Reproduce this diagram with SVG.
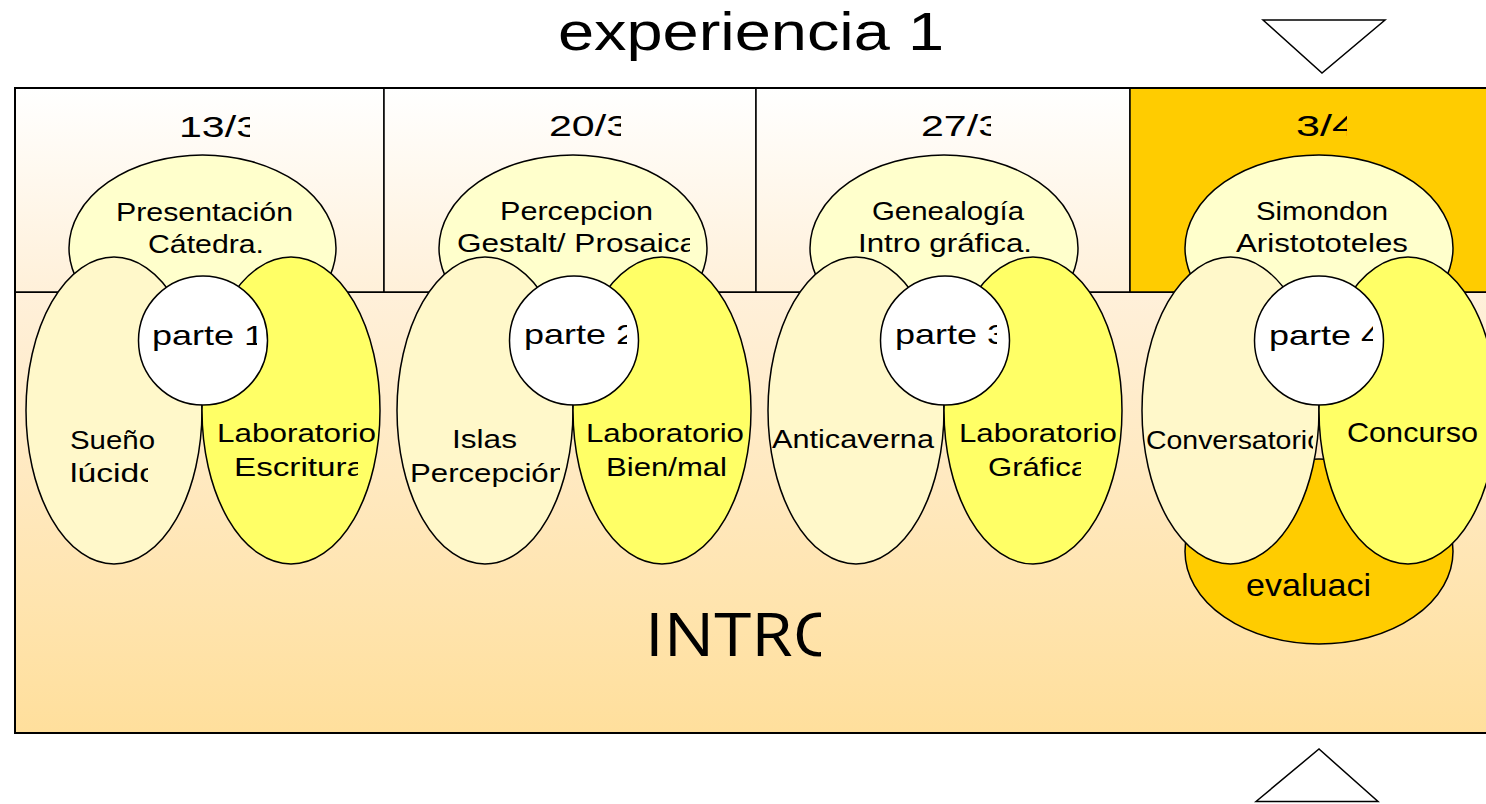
<svg xmlns="http://www.w3.org/2000/svg" width="1486" height="804" viewBox="0 0 1486 804">
<style>
  .sh { stroke: #000; stroke-width: 1.5; }
  .top { fill: #FFFFCC; }
  .left { fill: #FFF8CA; }
  .right { fill: #FFFF66; }
  .gold { fill: #FFCC00; }
  .circ { fill: #FFFFFF; }
  .t { font-family: "Liberation Sans", Arial, sans-serif; font-size: 26px; fill: #000; }
  .date { font-size: 29px; }
  .part { font-size: 28px; }
  .title { font-family: "Liberation Sans", Arial, sans-serif; font-size: 54px; fill: #000; }
  .big { font-family: "Open Sans", "Liberation Sans", sans-serif; font-size: 60px; fill: #000; }
</style>
<defs>
  <linearGradient id="gHead" x1="0" y1="0" x2="0" y2="1">
    <stop offset="0" stop-color="#FFFFFF"/>
    <stop offset="1" stop-color="#FFF0D9"/>
  </linearGradient>
  <linearGradient id="gBody" x1="0" y1="0" x2="0" y2="1">
    <stop offset="0" stop-color="#FFF0DA"/>
    <stop offset="1" stop-color="#FFDF9C"/>
  </linearGradient>
  <clipPath id="c13"><rect x="0" y="90" width="250" height="60"/></clipPath>
  <clipPath id="c20"><rect x="384" y="90" width="237" height="60"/></clipPath>
  <clipPath id="c27"><rect x="756" y="90" width="235" height="60"/></clipPath>
  <clipPath id="c34"><rect x="1130" y="90" width="217" height="60"/></clipPath>
  <clipPath id="cp1"><rect x="0" y="300" width="257" height="60"/></clipPath>
  <clipPath id="cp2"><rect x="384" y="300" width="243" height="60"/></clipPath>
  <clipPath id="cp3"><rect x="756" y="300" width="241" height="60"/></clipPath>
  <clipPath id="cp4"><rect x="1130" y="300" width="243" height="60"/></clipPath>
  <clipPath id="cLuc"><rect x="0" y="455" width="148" height="40"/></clipPath>
  <clipPath id="cEsc"><rect x="200" y="450" width="158" height="40"/></clipPath>
  <clipPath id="cGes"><rect x="440" y="225" width="250" height="40"/></clipPath>
  <clipPath id="cPer"><rect x="400" y="455" width="160" height="40"/></clipPath>
  <clipPath id="cGra"><rect x="950" y="450" width="131" height="40"/></clipPath>
  <clipPath id="cCon"><rect x="1140" y="420" width="173" height="40"/></clipPath>
  <clipPath id="cInt"><rect x="600" y="600" width="221" height="70"/></clipPath>
</defs>

<g id="title">
  <text class="title" x="558" y="50" textLength="386" lengthAdjust="spacingAndGlyphs">experiencia 1</text>
</g>

<g id="frame">
  <rect x="15" y="292" width="1490" height="441" fill="url(#gBody)" stroke="#000" stroke-width="2"/>
  <rect x="15" y="88" width="369" height="204" fill="url(#gHead)" stroke="#000" stroke-width="1.5"/>
  <rect x="384" y="88" width="372" height="204" fill="url(#gHead)" stroke="#000" stroke-width="1.5"/>
  <rect x="756" y="88" width="374" height="204" fill="url(#gHead)" stroke="#000" stroke-width="1.5"/>
  <rect x="1130" y="88" width="375" height="204" class="gold" stroke="#000" stroke-width="1.5"/>
  <rect x="15" y="88" width="1490" height="645" fill="none" stroke="#000" stroke-width="2"/>
</g>

<g id="markers">
  <polygon points="1263,20 1385,20 1322,73" fill="#FFFFFF" stroke="#000" stroke-width="1.5"/>
  <polygon points="1256,801.5 1319,749 1378,801.5" fill="#FFFFFF" stroke="#000" stroke-width="1.5"/>
</g>

<g id="intro">
  <text class="big" x="645" y="656" textLength="200" lengthAdjust="spacingAndGlyphs" clip-path="url(#cInt)">INTRO</text>
</g>

<g id="connectors"></g>

<g id="parte1">
  <text class="t date" x="179" y="137" textLength="80" lengthAdjust="spacingAndGlyphs" clip-path="url(#c13)">13/3</text>
  <ellipse class="sh top" cx="202.5" cy="248" rx="133.5" ry="93"/>
  <text class="t" x="116" y="221" textLength="177" lengthAdjust="spacingAndGlyphs">Presentación</text>
  <text class="t" x="148" y="253" textLength="116" lengthAdjust="spacingAndGlyphs">Cátedra.</text>
  <ellipse class="sh left" cx="114" cy="410.5" rx="88" ry="153.5"/>
  <ellipse class="sh right" cx="291" cy="410.5" rx="89" ry="153.5"/>
  <circle class="sh circ" cx="203" cy="340.5" r="64.5"/>
  <text class="t part" x="152" y="345" textLength="112" lengthAdjust="spacingAndGlyphs" clip-path="url(#cp1)">parte 1</text>
  <text class="t" x="70" y="449" textLength="85" lengthAdjust="spacingAndGlyphs">Sueño</text>
  <text class="t" x="70" y="482" textLength="88" lengthAdjust="spacingAndGlyphs" clip-path="url(#cLuc)">lúcido</text>
  <text class="t" x="217" y="442" textLength="159" lengthAdjust="spacingAndGlyphs">Laboratorio</text>
  <text class="t" x="234" y="476" textLength="131" lengthAdjust="spacingAndGlyphs" clip-path="url(#cEsc)">Escritura</text>
</g>

<g id="parte2">
  <text class="t date" x="549" y="136" textLength="80" lengthAdjust="spacingAndGlyphs" clip-path="url(#c20)">20/3</text>
  <ellipse class="sh top" cx="573" cy="248" rx="134" ry="93"/>
  <text class="t" x="500" y="220" textLength="153" lengthAdjust="spacingAndGlyphs">Percepcion</text>
  <text class="t" x="457" y="252" textLength="240" lengthAdjust="spacingAndGlyphs" clip-path="url(#cGes)">Gestalt/ Prosaica</text>
  <ellipse class="sh left" cx="485" cy="410.5" rx="88" ry="153.5"/>
  <ellipse class="sh right" cx="662" cy="410.5" rx="89" ry="153.5"/>
  <circle class="sh circ" cx="574" cy="340.5" r="64.5"/>
  <text class="t part" x="524" y="344" textLength="112" lengthAdjust="spacingAndGlyphs" clip-path="url(#cp2)">parte 2</text>
  <text class="t" x="452" y="448" textLength="65" lengthAdjust="spacingAndGlyphs">Islas</text>
  <text class="t" x="410" y="482" textLength="156" lengthAdjust="spacingAndGlyphs" clip-path="url(#cPer)">Percepción</text>
  <text class="t" x="586" y="442" textLength="158" lengthAdjust="spacingAndGlyphs">Laboratorio</text>
  <text class="t" x="606" y="476" textLength="121" lengthAdjust="spacingAndGlyphs">Bien/mal</text>
</g>

<g id="parte3">
  <text class="t date" x="921" y="136" textLength="80" lengthAdjust="spacingAndGlyphs" clip-path="url(#c27)">27/3</text>
  <ellipse class="sh top" cx="944" cy="248" rx="134" ry="93"/>
  <text class="t" x="872" y="220" textLength="152" lengthAdjust="spacingAndGlyphs">Genealogía</text>
  <text class="t" x="858" y="252" textLength="174" lengthAdjust="spacingAndGlyphs">Intro gráfica.</text>
  <ellipse class="sh left" cx="856" cy="410.5" rx="88" ry="153.5"/>
  <ellipse class="sh right" cx="1033" cy="410.5" rx="89" ry="153.5"/>
  <circle class="sh circ" cx="945" cy="340.5" r="64.5"/>
  <text class="t part" x="895" y="344" textLength="112" lengthAdjust="spacingAndGlyphs" clip-path="url(#cp3)">parte 3</text>
  <text class="t" x="772" y="448" textLength="162" lengthAdjust="spacingAndGlyphs">Anticaverna</text>
  <text class="t" x="959" y="442" textLength="158" lengthAdjust="spacingAndGlyphs">Laboratorio</text>
  <text class="t" x="988" y="476" textLength="100" lengthAdjust="spacingAndGlyphs" clip-path="url(#cGra)">Gráfica</text>
</g>

<g id="parte4">
  <text class="t date" x="1296" y="136" textLength="60" lengthAdjust="spacingAndGlyphs" clip-path="url(#c34)">3/4</text>
  <ellipse class="sh top" cx="1319" cy="248" rx="134" ry="93"/>
  <text class="t" x="1256" y="220" textLength="132" lengthAdjust="spacingAndGlyphs">Simondon</text>
  <text class="t" x="1236" y="252" textLength="172" lengthAdjust="spacingAndGlyphs">Aristototeles</text>
  <ellipse class="sh gold" cx="1319" cy="551.5" rx="134" ry="92.5"/>
  <ellipse class="sh left" cx="1230.5" cy="410.5" rx="88.5" ry="153.5"/>
  <ellipse class="sh right" cx="1408" cy="410.5" rx="89" ry="153.5"/>
  <circle class="sh circ" cx="1319" cy="340.5" r="64.5"/>
  <text class="t part" x="1269" y="345" textLength="112" lengthAdjust="spacingAndGlyphs" clip-path="url(#cp4)">parte 4</text>
  <text class="t" x="1146" y="449" style="font-size:25px" textLength="177" lengthAdjust="spacingAndGlyphs" clip-path="url(#cCon)">Conversatorio</text>
  <text class="t" x="1347" y="442" style="font-size:28px" textLength="131" lengthAdjust="spacingAndGlyphs">Concurso</text>
  <text class="t" x="1246" y="596" style="font-size:32px" textLength="125" lengthAdjust="spacingAndGlyphs">evaluaci</text>
</g>
</svg>
